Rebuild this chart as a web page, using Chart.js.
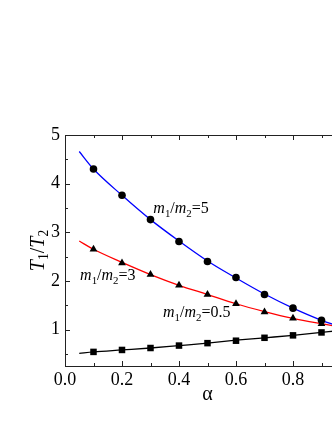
<!DOCTYPE html>
<html>
<head>
<meta charset="utf-8">
<script src="https://cdn.jsdelivr.net/npm/chart.js@4/dist/chart.umd.min.js"></script>
<style>
  html, body { margin: 0; padding: 0; background: #fff; overflow: hidden; }
  #wrap { width: 400px; height: 430px; }
</style>
</head>
<body>
<div id="wrap"><canvas id="chart"></canvas></div>
<script>
// values
var alpha = [0.1, 0.2, 0.3, 0.4, 0.5, 0.6, 0.7, 0.8, 0.9];
var ratio5 = [4.30, 3.76, 3.26, 2.81, 2.40, 2.07, 1.72, 1.44, 1.19];
var ratio3 = [2.65, 2.37, 2.13, 1.91, 1.72, 1.53, 1.36, 1.23, 1.12];
var ratio05 = [0.54, 0.58, 0.62, 0.67, 0.72, 0.77, 0.83, 0.88, 0.94];

// fitted curves
var curveAlpha = [0.05, 0.1, 0.2, 0.3, 0.4, 0.5, 0.6, 0.7, 0.8, 0.9, 0.95];
var curve5 = [4.66, 4.30, 3.76, 3.26, 2.82, 2.41, 2.06, 1.73, 1.44, 1.19, 1.09];
var curve3 = [2.82, 2.65, 2.38, 2.13, 1.91, 1.72, 1.53, 1.37, 1.23, 1.12, 1.07];
var curve05 = [0.51, 0.54, 0.58, 0.62, 0.67, 0.72, 0.78, 0.83, 0.88, 0.94, 0.97];

var xTicks = [0, 0.2, 0.4, 0.6, 0.8, 1.0];
var xMinor = [0.1, 0.3, 0.5, 0.7, 0.9];
var yTicks = [1, 2, 3, 4, 5];
var yMinor = [0.5, 1.5, 2.5, 3.5, 4.5];

var labels = [
    { x: 0.31, y: 3.39, value: '5' },
    { x: 0.053, y: 2.01, value: '3' },
    { x: 0.344, y: 1.25, value: '0.5' }
];

function pts(xs, ys) {
    return xs.map(function (x, i) { return { x: x, y: ys[i] }; });
}

function curve(data, color) {
    return {
        data: data, showLine: true, pointRadius: 0, borderColor: color,
        borderWidth: 1.3, cubicInterpolationMode: 'monotone', fill: false, order: 2
    };
}

function markers(data, style, r) {
    return {
        data: data, showLine: false, pointStyle: style, pointRadius: r, order: 1,
        backgroundColor: '#000', borderColor: '#000',
        pointBackgroundColor: '#000', pointBorderColor: '#000', pointBorderWidth: 0
    };
}

var serif = '"Liberation Serif", "DejaVu Serif", serif';

// draws text made of pieces: normal, italic or subscript
function drawParts(ctx, x, y, parts, size) {
    ctx.textBaseline = 'alphabetic';
    ctx.textAlign = 'left';
    parts.forEach(function (p) {
        var s = p.sub ? size * 0.68 : size;
        ctx.font = (p.it ? 'italic ' : '') + s + 'px ' + serif;
        ctx.fillText(p.t, x, y + (p.sub ? size * 0.22 : 0));
        x += ctx.measureText(p.t).width;
    });
}

var decor = {
    id: 'decor',
    afterDraw: function (chart) {
        var ctx = chart.ctx;
        var a = chart.chartArea;
        var xs = chart.scales.x, ys = chart.scales.y;
        ctx.save();
        ctx.strokeStyle = '#222';
        ctx.lineWidth = 1;
        ctx.strokeRect(a.left + 0.5, a.top + 0.5, a.right - a.left, a.bottom - a.top);

        ctx.beginPath();
        function xt(v, len) {
            var px = Math.round(xs.getPixelForValue(v)) + 0.5;
            ctx.moveTo(px, a.bottom); ctx.lineTo(px, a.bottom - len);
            ctx.moveTo(px, a.top); ctx.lineTo(px, a.top + len);
        }
        function yt(v, len) {
            var py = Math.round(ys.getPixelForValue(v)) + 0.5;
            ctx.moveTo(a.left, py); ctx.lineTo(a.left + len, py);
            ctx.moveTo(a.right, py); ctx.lineTo(a.right - len, py);
        }
        xTicks.forEach(function (v) { xt(v, 5); });
        xMinor.forEach(function (v) { xt(v, 3); });
        yTicks.forEach(function (v) { yt(v, 5); });
        yMinor.forEach(function (v) { yt(v, 3); });
        ctx.stroke();

        ctx.fillStyle = '#000';
        labels.forEach(function (l) {
            drawParts(ctx, xs.getPixelForValue(l.x), ys.getPixelForValue(l.y), [
                { t: 'm', it: true }, { t: '1', sub: true }, { t: '/' },
                { t: 'm', it: true }, { t: '2', sub: true }, { t: '=' + l.value }
            ], 16);
        });

        // x title
        ctx.font = '20px ' + serif;
        ctx.textAlign = 'center';
        ctx.textBaseline = 'alphabetic';
        ctx.fillText('\u03b1', xs.getPixelForValue(0.5), 400);

        // y title
        ctx.translate(44, (a.top + a.bottom) / 2);
        ctx.rotate(-Math.PI / 2);
        var parts = [{ t: 'T', it: true }, { t: '1', sub: true }, { t: '/' },
                     { t: 'T', it: true }, { t: '2', sub: true }];
        var w = 0;
        parts.forEach(function (p) {
            ctx.font = (p.it ? 'italic ' : '') + (p.sub ? 20 * 0.68 : 20) + 'px ' + serif;
            w += ctx.measureText(p.t).width;
        });
        drawParts(ctx, -w / 2, 0, parts, 20);
        ctx.restore();
    }
};

var ctx = document.getElementById('chart').getContext('2d');
ctx.canvas.width = 400;
ctx.canvas.height = 430;
var chart = new Chart(ctx, {
    type: 'scatter',
    data: {
        datasets: [
            markers(pts(alpha, ratio5), 'circle', 3.8),
            markers(pts(alpha, ratio3), 'triangle', 4.5),
            markers(pts(alpha, ratio05), 'rect', 4.6),
            curve(pts(curveAlpha, curve5), '#0000ff'),
            curve(pts(curveAlpha, curve3), '#ff0000'),
            curve(pts(curveAlpha, curve05), '#000000')
        ]
    },
    options: {
        responsive: false,
        animation: false,
        layout: { padding: { left: 0, top: 135, right: 50, bottom: 24 } },
        plugins: { legend: { display: false }, tooltip: { enabled: false } },
        scales: {
            x: {
                type: 'linear', min: 0, max: 1,
                grid: { display: false, drawTicks: false },
                border: { display: false },
                afterBuildTicks: function (s) { s.ticks = xTicks.map(function (v) { return { value: v }; }); },
                afterFit: function (s) { s.height = 40; },
                ticks: {
                    padding: 3, color: '#000', maxRotation: 0,
                    font: { family: serif, size: 18 },
                    callback: function (v) { return Number(v).toFixed(1); }
                }
            },
            y: {
                type: 'linear', min: 0.25, max: 5,
                grid: { display: false, drawTicks: false },
                border: { display: false },
                afterBuildTicks: function (s) { s.ticks = yTicks.map(function (v) { return { value: v }; }); },
                afterFit: function (s) { s.width = 65; },
                ticks: {
                    padding: 5, color: '#000',
                    font: { family: serif, size: 18 },
                    callback: function (v) { return String(v); }
                }
            }
        }
    },
    plugins: [decor]
});
</script>
</body>
</html>
